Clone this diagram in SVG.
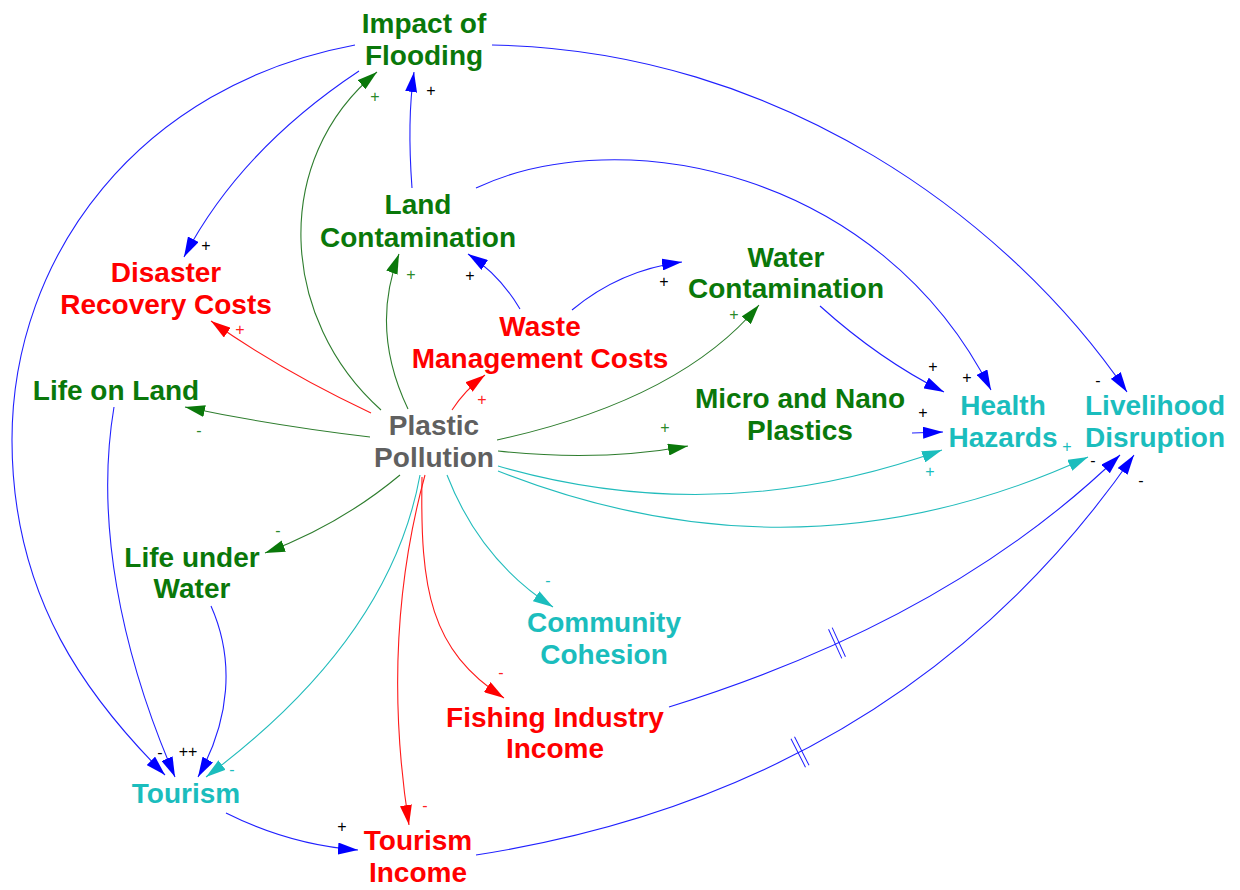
<svg xmlns="http://www.w3.org/2000/svg" width="1240" height="890" viewBox="0 0 1240 890">
<style>
text{font-family:"Liberation Sans",Arial,sans-serif}
.n{font-size:28px;font-weight:bold;text-anchor:middle}
.g{fill:#0a780a}.r{fill:#ff0000}.c{fill:#1bbdbd}.k{fill:#606060}
.p{font-size:16px;text-anchor:middle}
.pk{fill:#000}.pg{fill:#2a8a2a}.pr{fill:#ff2020}.pc{fill:#1bbdbd}
.e{fill:none;stroke-width:1.1}
.eb{stroke:#2020ff;marker-end:url(#ab)}
.eg{stroke:#2e7d2e;marker-end:url(#ag)}
.er{stroke:#ff1a1a;marker-end:url(#ar)}
.ec{stroke:#22bcbc;marker-end:url(#ac)}
.d{stroke:#2020ff;stroke-width:1;fill:none}
</style>
<defs>
<marker id="ab" markerUnits="userSpaceOnUse" markerWidth="20" markerHeight="12" refX="20" refY="6" orient="auto"><path d="M0,0 L20,6 L0,12 Z" fill="#0000ff"/></marker>
<marker id="ag" markerUnits="userSpaceOnUse" markerWidth="20" markerHeight="12" refX="20" refY="6" orient="auto"><path d="M0,0 L20,6 L0,12 Z" fill="#0a780a"/></marker>
<marker id="ar" markerUnits="userSpaceOnUse" markerWidth="20" markerHeight="12" refX="20" refY="6" orient="auto"><path d="M0,0 L20,6 L0,12 Z" fill="#ff0000"/></marker>
<marker id="ac" markerUnits="userSpaceOnUse" markerWidth="20" markerHeight="12" refX="20" refY="6" orient="auto"><path d="M0,0 L20,6 L0,12 Z" fill="#1bbdbd"/></marker>
</defs>
<rect width="1240" height="890" fill="#fff"/>
<g id="connectors">
<path class="e eb" d="M492,45 C780,50 1010,220 1127,392"/>
<path class="e eb" d="M355,45 C140,85 12,255 12,440 C12,600 90,700 165,775"/>
<path class="e eb" d="M359,71 Q240,150 184,257"/>
<path class="e eb" d="M412,188 Q407,120 414,72"/>
<path class="e eg" d="M381,410 C280,320 270,160 377,72"/>
<path class="e eg" d="M408,409 Q370,330 399,254"/>
<path class="e eb" d="M520,309 Q500,275 468,254"/>
<path class="e eb" d="M572,310 Q620,270 682,262"/>
<path class="e er" d="M371,413 Q280,370 211,321"/>
<path class="e er" d="M452,410 Q465,390 485,375"/>
<path class="e eg" d="M497,440 Q680,400 759,305"/>
<path class="e eg" d="M498,451 Q600,462 688,446"/>
<path class="e eg" d="M370,437 Q270,425 185,407"/>
<path class="e eg" d="M400,475 Q340,525 265,553"/>
<path class="e ec" d="M420,475 Q390,640 206,777"/>
<path class="e er" d="M425,475 Q380,640 409,825"/>
<path class="e er" d="M422,477 C420,590 430,650 504,698"/>
<path class="e ec" d="M447,475 Q480,560 553,607"/>
<path class="e ec" d="M498,466 Q720,530 942,450"/>
<path class="e ec" d="M498,471 Q800,590 1088,457"/>
<path class="e eb" d="M912,433 L943,432"/>
<path class="e eb" d="M820,306 Q880,360 944,392"/>
<path class="e eb" d="M476,188 C620,120 880,170 991,390"/>
<path class="e eb" d="M669,707 Q950,620 1120,455"/>
<path class="e eb" d="M476,855 C700,820 950,720 1134,455"/>
<path class="e eb" d="M114,407 C95,520 120,650 175,777"/>
<path class="e eb" d="M211,606 C235,660 230,720 198,777"/>
<path class="e eb" d="M226,813 Q290,845 358,850"/>
<g transform="translate(837,643) rotate(-24.5)"><path class="d" d="M-2,-16 L-2,16 M2,-16 L2,16"/></g>
<g transform="translate(800,752) rotate(-27)"><path class="d" d="M-2,-16 L-2,16 M2,-16 L2,16"/></g>
<text class="p pk" x="206" y="251">+</text>
<text class="p pk" x="431" y="96">+</text>
<text class="p pg" x="375" y="102">+</text>
<text class="p pg" x="411" y="280">+</text>
<text class="p pk" x="470" y="281">+</text>
<text class="p pk" x="664" y="287">+</text>
<text class="p pr" x="240" y="335">+</text>
<text class="p pr" x="482" y="405">+</text>
<text class="p pg" x="734" y="320">+</text>
<text class="p pg" x="665" y="433">+</text>
<text class="p pg" x="199" y="436">-</text>
<text class="p pg" x="278" y="536">-</text>
<text class="p pc" x="548" y="586">-</text>
<text class="p pr" x="501" y="678">-</text>
<text class="p pr" x="425" y="811">-</text>
<text class="p pk" x="160" y="758">-</text>
<text class="p pk" x="188" y="757">++</text>
<text class="p pc" x="232" y="775">-</text>
<text class="p pk" x="342" y="832">+</text>
<text class="p pk" x="933" y="372">+</text>
<text class="p pk" x="967" y="383">+</text>
<text class="p pk" x="923" y="418">+</text>
<text class="p pc" x="930" y="477">+</text>
<text class="p pc" x="1067" y="452">+</text>
<text class="p pk" x="1098" y="386">-</text>
<text class="p pk" x="1093" y="466">-</text>
<text class="p pk" x="1141" y="486">-</text>
</g>
<g id="impact_of_flooding"><text class="n g" x="424" y="33">Impact of</text><text class="n g" x="424" y="65">Flooding</text></g>
<g id="land_contamination"><text class="n g" x="418" y="214">Land</text><text class="n g" x="418" y="247">Contamination</text></g>
<g id="disaster_recovery_costs"><text class="n r" x="166" y="282">Disaster</text><text class="n r" x="166" y="314">Recovery Costs</text></g>
<g id="waste_management_costs"><text class="n r" x="540" y="336">Waste</text><text class="n r" x="540" y="368">Management Costs</text></g>
<g id="water_contamination"><text class="n g" x="786" y="267">Water</text><text class="n g" x="786" y="298">Contamination</text></g>
<g id="life_on_land"><text class="n g" x="116" y="400">Life on Land</text></g>
<g id="plastic_pollution"><text class="n k" x="434" y="435">Plastic</text><text class="n k" x="434" y="467">Pollution</text></g>
<g id="micro_nano_plastics"><text class="n g" x="800" y="408">Micro and Nano</text><text class="n g" x="800" y="440">Plastics</text></g>
<g id="health_hazards"><text class="n c" x="1003" y="415">Health</text><text class="n c" x="1003" y="447">Hazards</text></g>
<g id="livelihood_disruption"><text class="n c" x="1155" y="415">Livelihood</text><text class="n c" x="1155" y="447">Disruption</text></g>
<g id="life_under_water"><text class="n g" x="192" y="567">Life under</text><text class="n g" x="192" y="598">Water</text></g>
<g id="community_cohesion"><text class="n c" x="604" y="632">Community</text><text class="n c" x="604" y="664">Cohesion</text></g>
<g id="fishing_industry_income"><text class="n r" x="555" y="727">Fishing Industry</text><text class="n r" x="555" y="758">Income</text></g>
<g id="tourism"><text class="n c" x="186" y="803">Tourism</text></g>
<g id="tourism_income"><text class="n r" x="418" y="850">Tourism</text><text class="n r" x="418" y="882">Income</text></g>
</svg>
